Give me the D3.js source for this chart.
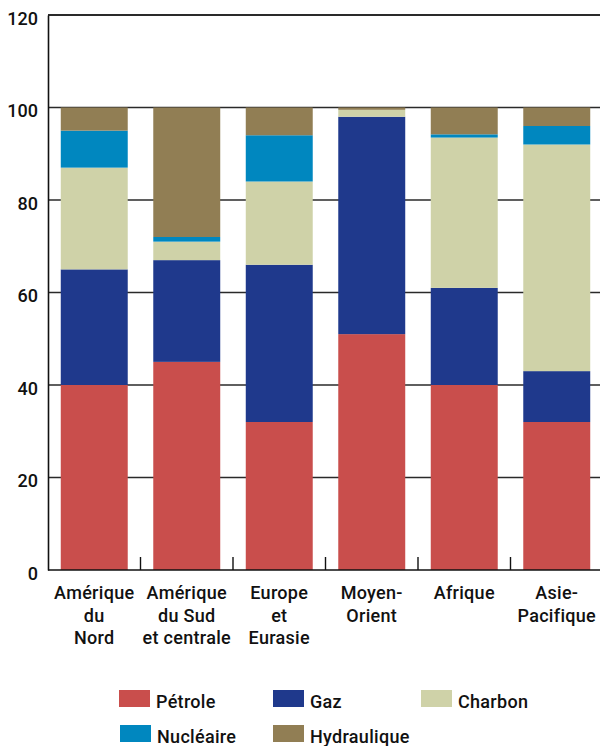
<!DOCTYPE html>
<html>
<head>
<meta charset="utf-8">
<script src="https://cdn.jsdelivr.net/npm/d3@7"></script>
<style>
  html, body { margin: 0; padding: 0; background: #fff; }
  svg { display: block; font-family: Roboto, "Noto Sans", sans-serif; }
</style>
</head>
<body>
<svg id="chart" width="600" height="746"></svg>
<script>
// Régions (libellés sur plusieurs lignes)
const regions = ["Amérique du Nord", "Amérique du Sud et centrale", "Europe et Eurasie", "Moyen-Orient", "Afrique", "Asie-Pacifique"];
const regionLines = [["Amérique", "du", "Nord"], ["Amérique", "du Sud", "et centrale"], ["Europe", "et", "Eurasie"], ["Moyen-", "Orient"], ["Afrique"], ["Asie-", "Pacifique"]];

// Parts de chaque source d'énergie (%)
const sources = ["Pétrole", "Gaz", "Charbon", "Nucléaire", "Hydraulique"];
const petrole     = [40, 45, 32, 51, 40, 32];
const gaz         = [25, 22, 34, 47, 21, 11];
const charbon     = [22, 4, 18, 1.5, 32.5, 49];
const nucleaire   = [8, 1, 10, 0, 0.7, 4];
const hydraulique = [5, 28, 6, 0.5, 5.8, 4];
const yTicks = [0, 20, 40, 60, 80, 100, 120];

const colors = ["#C94E4C", "#1F398C", "#CFD2A8", "#0087BF", "#917E54"];

const rows = regions.map((r, i) => ({
  region: r,
  "Pétrole": petrole[i],
  "Gaz": gaz[i],
  "Charbon": charbon[i],
  "Nucléaire": nucleaire[i],
  "Hydraulique": hydraulique[i]
}));

const svg = d3.select("#chart");
const x0 = 48, x1 = 603, yTop = 15, yBot = 570;

const x = d3.scaleBand().domain(regions).range([x0, x1]).paddingInner(0.276).paddingOuter(0.138);
const y = d3.scaleLinear().domain([0, 120]).range([yBot, yTop]);
const color = d3.scaleOrdinal().domain(sources).range(colors);

// Grille horizontale
svg.append("g").selectAll("line").data(yTicks.filter(d => d > 0)).join("line")
  .attr("x1", x0).attr("x2", 600)
  .attr("y1", d => y(d)).attr("y2", d => y(d))
  .attr("stroke", "#2a2a2a")
  .attr("stroke-width", d => d === 120 ? 1.8 : 1.4);

// Barres empilées
const stack = d3.stack().keys(sources)(rows);
svg.append("g").selectAll("g").data(stack).join("g")
  .attr("fill", d => color(d.key))
  .selectAll("rect").data(d => d).join("rect")
  .attr("x", d => x(d.data.region))
  .attr("width", x.bandwidth())
  .attr("y", d => y(d[1]))
  .attr("height", d => y(d[0]) - y(d[1]));

// Axe vertical
const yAxis = d3.axisLeft(y).tickValues(yTicks).tickSize(0).tickPadding(10);
const gy = svg.append("g").attr("transform", `translate(${x0},0)`).call(yAxis);
gy.select(".domain").attr("stroke", "#111").attr("stroke-width", 1.6);
gy.selectAll("text")
  .attr("font-family", "Roboto, sans-serif")
  .attr("font-size", 18).attr("font-weight", 500)
  .attr("fill", "#111").attr("dy", "0.52em");

// Axe horizontal avec graduations entre les catégories
svg.append("line")
  .attr("x1", x0).attr("x2", 600).attr("y1", yBot).attr("y2", yBot)
  .attr("stroke", "#111").attr("stroke-width", 1.6);
const step = x.step();
const bounds = d3.range(1, regions.length).map(i => x(regions[i]) - (step - x.bandwidth()) / 2);
svg.append("g").selectAll("line").data(bounds).join("line")
  .attr("x1", d => d).attr("x2", d => d)
  .attr("y1", yBot).attr("y2", yBot - 13)
  .attr("stroke", "#111").attr("stroke-width", 1.4);

// Libellés des régions
const labels = svg.append("g").selectAll("text").data(regions).join("text")
  .attr("text-anchor", "middle")
  .attr("font-size", 18).attr("font-weight", 500).attr("fill", "#111")
  .attr("letter-spacing", 0.3)
  .attr("x", d => x(d) + x.bandwidth() / 2)
  .attr("y", 599);
labels.selectAll("tspan").data((d, i) => regionLines[i]).join("tspan")
  .attr("x", function () { return d3.select(this.parentNode).attr("x"); })
  .attr("dy", (d, i) => i === 0 ? 0 : 22.5)
  .text(d => d);

// Légende
const legendPos = [
  { x: 119, y: 690 }, { x: 273, y: 690 }, { x: 421, y: 690 },
  { x: 120, y: 725 }, { x: 273, y: 725 }
];
const legend = svg.append("g").selectAll("g").data(sources).join("g")
  .attr("transform", (d, i) => `translate(${legendPos[i].x},${legendPos[i].y})`);
legend.append("rect").attr("width", 31).attr("height", 17).attr("fill", d => color(d));
legend.append("text")
  .attr("x", 37).attr("y", 17.5)
  .attr("font-size", 18).attr("font-weight", 500).attr("fill", "#111")
  .attr("letter-spacing", 0.3)
  .text(d => d);
</script>
</body>
</html>
